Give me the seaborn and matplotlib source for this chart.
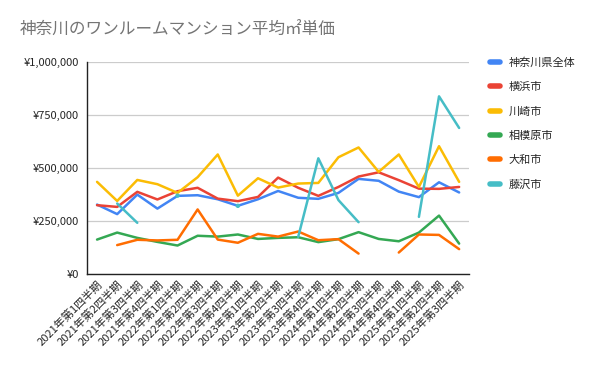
import numpy as np
import pandas as pd
import matplotlib
matplotlib.use("Agg")
import matplotlib.pyplot as plt
from matplotlib.lines import Line2D
from matplotlib.ticker import FuncFormatter
import seaborn as sns

# 四半期ラベル
quarters = [f"{y}年第{q}四半期" for y in range(2021, 2026) for q in range(1, 5)][:19]

nan = np.nan
kanagawa = [328000, 283000, 375000, 309000, 369000, 372000, 353000, 322000, 353000, 392000,
            360000, 355000, 383000, 449000, 440000, 389000, 363000, 433000, 385000]
yokohama = [325000, 317000, 388000, 352000, 391000, 407000, 356000, 344000, 364000, 455000,
            407000, 369000, 411000, 460000, 480000, 443000, 403000, 402000, 411000]
kawasaki = [435000, 345000, 444000, 424000, 383000, 457000, 564000, 370000, 452000, 408000,
            427000, 430000, 551000, 597000, 482000, 564000, 411000, 603000, 435000]
sagamihara = [163000, 196000, 171000, 152000, 135000, 181000, 177000, 187000, 166000, 171000,
              174000, 151000, 165000, 198000, 166000, 155000, 196000, 276000, 144000]
yamato = [nan, 137000, 162000, 159000, 162000, 305000, 163000, 148000, 190000, 177000,
          201000, 160000, 165000, 97000, nan, 102000, 187000, 185000, 118000]
fujisawa = [nan, 333000, 242000, nan, 370000, nan, nan, 322000, nan, nan,
            176000, 546000, 349000, 245000, nan, nan, 270000, 838000, 689000]

series_names = ["神奈川県全体", "横浜市", "川崎市", "相模原市", "大和市", "藤沢市"]
series_values = [kanagawa, yokohama, kawasaki, sagamihara, yamato, fujisawa]
colors = ["#4285F4", "#EA4335", "#FBBC04", "#34A853", "#FF6D01", "#46BDC6"]

# 縦長のDataFrameに変換（欠損で線を区切るためにセグメント番号を付ける）
rows = []
for name, vals in zip(series_names, series_values):
    seg = 0
    prev_nan = True
    for i, v in enumerate(vals):
        if np.isnan(v):
            prev_nan = True
            continue
        if prev_nan:
            seg += 1
        prev_nan = False
        rows.append({"q": i, "value": v, "series": name, "seg": f"{name}_{seg}"})
df = pd.DataFrame(rows)
seg_size = df.groupby("seg")["q"].transform("size")

sns.set_style("white")
plt.rcParams['font.family'] = ['Noto Sans CJK JP', 'DejaVu Sans']

fig = plt.figure(figsize=(6, 3.71), dpi=100)
ax = fig.add_axes([0.145, 0.261, 0.637, 0.572])

palette = dict(zip(series_names, colors))
sns.lineplot(data=df, x="q", y="value", hue="series", units="seg", estimator=None,
             palette=palette, linewidth=1.8, legend=False, ax=ax, sort=True)
# 単独の点はマーカーで表示
sns.scatterplot(data=df[seg_size == 1], x="q", y="value", hue="series", palette=palette,
                s=10, linewidth=0, legend=False, ax=ax, zorder=3)

ax.set_xlim(-0.5, 18.5)
ax.set_ylim(0, 1000000)
ax.set_yticks([0, 250000, 500000, 750000, 1000000])
ax.yaxis.set_major_formatter(FuncFormatter(lambda v, p: f"¥{int(v):,}"))
ax.set_xticks(range(len(quarters)))
ax.set_xticklabels(quarters, rotation=45, ha="right", rotation_mode="anchor", fontsize=8)
ax.tick_params(axis="y", labelsize=8, length=0, pad=6)
ax.tick_params(axis="x", length=0, pad=3)
ax.set_xlabel("")
ax.set_ylabel("")
ax.grid(axis="y", color="#cccccc", linewidth=0.9)
ax.set_axisbelow(True)
for s in ["top", "right"]:
    ax.spines[s].set_visible(False)
for s in ["left", "bottom"]:
    ax.spines[s].set_color("#222222")
    ax.spines[s].set_linewidth(1.0)

handles = [Line2D([0], [0], color=c, linewidth=4) for c in colors]
fig.legend(handles, series_names, loc="upper left", bbox_to_anchor=(0.8, 0.872),
           frameon=False, fontsize=8, handlelength=0.9, handletextpad=0.75,
           labelspacing=1.28)

fig.text(0.033, 0.917, "神奈川のワンルームマンション平均㎡単価", fontsize=12,
         color="#757575", va="center", ha="left")

fig.savefig("out.png", dpi=100)
